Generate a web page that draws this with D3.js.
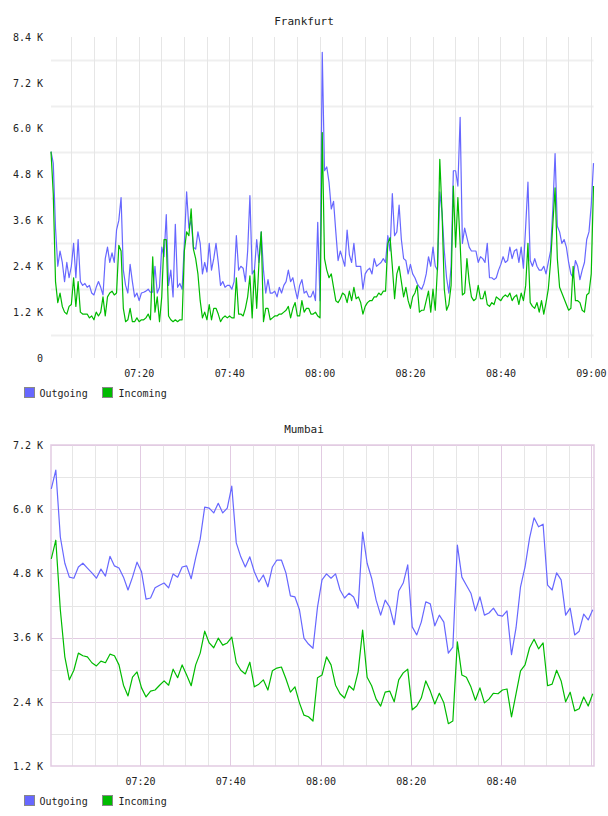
<!DOCTYPE html>
<html>
<head>
<meta charset="utf-8">
<script src="https://cdn.jsdelivr.net/npm/d3@7"></script>
<style>
body { margin: 0; background: #fff; }
text { font-family: "DejaVu Sans Mono", monospace; fill: #222; }
.title { font-size: 11px; }
.axis text, .legend text { font-size: 10px; }
</style>
</head>
<body>
<div id="charts"></div>
<script>
// values are in thousands (K)
var series_names = ['Outgoing', 'Incoming'];
var time_ticks = ['07:20', '07:40', '08:00', '08:20', '08:40', '09:00'];

var frankfurt_start = '07:00:35', frankfurt_step = 30; // seconds between samples
var frankfurt_y_ticks = [0, 1.2, 2.4, 3.6, 4.8, 6.0, 7.2, 8.4];
var frankfurt_outgoing = [
    5.4, 5.1, 3.4, 2.4, 2.8, 2.5, 2.0, 2.5, 2.1, 2.4,
    3.0, 2.1, 3.1, 2.0, 1.9, 1.95, 1.85, 1.9, 1.7, 1.65,
    1.85, 2.0, 1.85, 1.65, 2.6, 2.9, 2.5, 2.75, 2.5, 3.35,
    3.6, 4.2, 2.3, 1.9, 1.7, 2.45, 2.0, 1.6, 1.7, 1.5,
    1.7, 1.72, 1.75, 1.8, 1.72, 1.72, 2.4, 1.7, 1.85, 2.9,
    2.65, 3.75, 1.9, 2.3, 1.6, 3.5, 1.85, 1.95, 1.8, 3.0,
    4.35, 3.4, 3.6, 2.9, 2.85, 3.3, 3.0, 2.2, 2.5, 2.25,
    3.0, 2.3, 2.6, 3.0, 2.5, 1.9, 2.0, 1.85, 1.9, 1.9,
    1.8, 2.0, 3.2, 2.3, 2.4, 2.35, 2.0, 2.8, 4.25, 2.2,
    2.3, 3.1, 2.5, 3.3, 2.3, 1.7, 2.05, 1.7, 1.7, 1.75,
    1.6, 1.85, 1.7, 1.9, 2.0, 2.3, 2.0, 2.1, 1.8, 1.55,
    1.9, 2.05, 1.7, 1.75, 1.6, 1.6, 1.75, 1.5, 3.55, 1.5,
    8.0, 4.9, 5.0, 4.6, 3.9, 4.1, 3.3, 2.55, 2.8, 2.6,
    2.4, 3.35, 2.7, 2.5, 3.0, 2.4, 2.4, 2.4, 1.8, 2.2,
    2.3, 2.35, 2.2, 2.6, 2.4, 2.45, 2.5, 2.6, 2.5, 3.2,
    2.8, 4.3, 3.2, 3.3, 4.0, 3.1, 2.6, 2.55, 2.2, 2.45,
    2.2, 2.1, 1.95, 1.85, 1.8, 1.95, 2.2, 2.65, 2.4, 2.9,
    2.4, 2.3, 4.35, 3.8, 2.8, 2.1, 1.7, 2.4, 4.9, 4.9,
    4.5, 6.3, 3.0, 3.4, 3.15, 2.9, 2.8, 2.8, 2.8, 2.5,
    2.65, 2.6, 2.5, 3.0, 2.1, 2.1, 2.05, 2.1, 2.3, 2.45,
    2.65, 2.5, 2.55, 2.9, 2.6, 2.8, 2.85, 2.5, 2.9, 2.35,
    3.45, 4.6, 2.55, 2.4, 2.6, 2.4, 2.3, 2.3, 2.4, 2.2,
    2.5, 2.8, 3.9, 5.35, 3.45, 3.3, 3.0, 3.1, 2.9, 2.5,
    2.2, 2.1, 2.55, 2.4, 2.05, 2.3, 2.5, 3.1, 3.3, 4.0, 5.1
];
var frankfurt_incoming = [
    5.4, 4.3, 2.0, 1.45, 1.7, 1.35, 1.2, 1.15, 1.35, 1.4,
    2.1, 1.35, 2.0, 1.2, 1.15, 1.15, 1.15, 1.05, 1.1, 1.0,
    1.2, 1.1, 1.2, 1.6, 1.1, 1.6, 1.7, 1.75, 1.65, 1.7,
    2.95, 2.8, 1.3, 0.95, 1.0, 1.3, 0.95, 0.95, 1.05, 0.95,
    1.0, 1.0, 1.05, 1.15, 1.0, 2.65, 1.2, 1.6, 0.95, 1.6,
    3.1, 3.1, 1.1, 1.0, 0.95, 1.0, 0.95, 1.0, 1.0, 2.8,
    3.3, 3.2, 3.9, 2.85, 2.6, 2.2, 1.5, 1.05, 1.2, 1.0,
    1.4, 1.0, 1.3, 1.3, 1.15, 0.95, 1.05, 1.1, 1.05, 1.1,
    1.05, 1.05, 2.1, 1.15, 1.15, 1.1, 1.3, 1.6, 2.15, 1.05,
    2.3, 1.3, 2.5, 3.3, 0.95, 1.3, 1.3, 1.0, 1.05, 1.1,
    1.1, 1.15, 1.15, 1.2, 1.25, 1.35, 1.05, 1.3, 1.45, 1.1,
    1.1, 1.5, 1.2, 1.3, 1.3, 1.15, 1.15, 1.2, 1.1, 1.05,
    5.9, 2.6, 2.3, 2.1, 2.2, 1.85, 1.5, 1.45, 1.55, 1.7,
    1.65, 1.45, 1.75, 1.5, 1.85, 1.55, 1.6, 1.45, 1.15, 1.35,
    1.45, 1.5, 1.5, 1.6, 1.6, 1.7, 1.65, 1.75, 1.75, 3.0,
    3.15, 2.4, 1.55, 2.2, 2.4, 2.0, 1.6, 1.85, 1.5, 1.3,
    1.6, 1.7, 1.9, 1.2, 1.25, 1.25, 1.5, 1.75, 1.2, 1.8,
    1.25, 2.4, 5.2, 3.8, 1.8, 1.25, 1.4, 1.9, 4.5, 2.9,
    4.2, 3.0, 1.65, 1.7, 2.6, 2.0, 1.6, 1.5, 1.55, 1.9,
    1.55, 1.55, 1.75, 1.4, 1.35, 1.45, 1.4, 1.6, 1.55, 1.5,
    1.6, 1.65, 1.6, 1.7, 1.5, 1.6, 1.65, 1.4, 1.7, 1.5,
    1.9, 3.0, 1.45, 1.35, 1.3, 1.45, 1.2, 1.5, 1.15, 1.45,
    1.8, 2.5, 3.5, 4.45, 2.6, 1.85, 1.7, 1.55, 1.4, 1.25,
    1.3, 2.4, 1.5, 1.5, 1.45, 1.25, 1.2, 1.65, 1.7, 2.2, 4.5
];

var mumbai_start = '07:00:20', mumbai_step = 60;
var mumbai_y_ticks = [1.2, 2.4, 3.6, 4.8, 6.0, 7.2];
var mumbai_outgoing = [
    6.38, 6.73, 5.48, 4.99, 4.73, 4.71, 4.92, 4.99, 4.90, 4.81,
    4.71, 4.88, 4.75, 5.12, 4.94, 4.90, 4.73, 4.49, 4.73, 5.01,
    4.83, 4.32, 4.34, 4.53, 4.58, 4.62, 4.53, 4.79, 4.73, 4.92,
    4.94, 4.70, 5.09, 5.44, 6.04, 6.02, 5.93, 6.11, 5.93, 6.02,
    6.43, 5.37, 5.11, 4.92, 5.11, 4.83, 4.64, 4.77, 4.55, 4.92,
    5.05, 5.05, 4.81, 4.38, 4.36, 4.12, 3.59, 3.48, 3.40, 4.17,
    4.68, 4.79, 4.71, 4.79, 4.49, 4.34, 4.43, 4.36, 4.15, 5.57,
    4.99, 4.71, 4.30, 4.02, 4.30, 4.17, 3.84, 4.47, 4.62, 4.96,
    3.80, 3.65, 3.89, 4.27, 4.23, 3.82, 4.02, 3.89, 3.31, 3.42,
    5.33, 4.73, 4.58, 4.43, 4.10, 4.36, 4.02, 4.06, 4.15, 4.02,
    4.00, 4.10, 3.28, 3.78, 4.55, 4.92, 5.46, 5.84, 5.67, 5.72,
    4.58, 4.49, 4.81, 4.68, 4.02, 4.15, 3.65, 3.72, 4.04, 3.93,
    4.12
];
var mumbai_incoming = [
    5.07, 5.42, 4.12, 3.24, 2.81, 2.99, 3.31, 3.26, 3.24, 3.13,
    3.07, 3.16, 3.13, 3.29, 3.26, 3.09, 2.71, 2.51, 2.86, 2.96,
    2.66, 2.49, 2.60, 2.62, 2.71, 2.79, 2.71, 3.01, 2.85, 3.09,
    2.90, 2.70, 3.09, 3.31, 3.72, 3.50, 3.41, 3.59, 3.46, 3.50,
    3.61, 3.13, 2.99, 2.92, 3.14, 2.68, 2.73, 2.81, 2.62, 2.98,
    3.03, 3.05, 2.83, 2.58, 2.68, 2.38, 2.15, 2.12, 2.04, 2.85,
    2.90, 3.24, 3.09, 2.71, 2.55, 2.47, 2.70, 2.62, 2.96, 3.74,
    2.86, 2.70, 2.45, 2.32, 2.58, 2.60, 2.40, 2.81, 2.94, 3.01,
    2.25, 2.32, 2.47, 2.79, 2.60, 2.36, 2.56, 2.38, 1.99, 2.04,
    3.52, 2.90, 2.86, 2.68, 2.43, 2.66, 2.38, 2.45, 2.56, 2.55,
    2.62, 2.64, 2.12, 2.55, 2.98, 3.09, 3.41, 3.57, 3.39, 3.50,
    2.70, 2.73, 2.99, 2.79, 2.40, 2.58, 2.23, 2.27, 2.49, 2.32,
    2.55
];

var colors = ['#6767ff', '#00bb00'];
var parseTime = d3.timeParse('%H:%M:%S');

function series(start, step, values) {
    var t0 = parseTime(start);
    return values.map((v, i) => ({ time: new Date(t0.getTime() + i * step * 1000), value: v }));
}

var svg = d3.select('#charts').append('svg')
    .attr('width', 608)
    .attr('height', 816);

function plot(c) {
    var margin = { left: 51, top: c.top },
        width = c.width,
        height = 321;

    var g = svg.append('g')
        .attr('transform', `translate(${margin.left},${margin.top})`);

    var x = d3.scaleTime()
        .domain(c.x_domain.map(parseTime))
        .range([0, width]);
    var y = d3.scaleLinear()
        .domain(d3.extent(c.y_ticks))
        .range([height, 0]);

    svg.append('text')
        .attr('class', 'title')
        .attr('x', 304)
        .attr('y', margin.top - 12)
        .attr('text-anchor', 'middle')
        .text(c.title);

    // grid
    var step = c.y_ticks[1] - c.y_ticks[0];
    var hlines = d3.range(c.y_ticks[0] + step / 2, d3.max(c.y_ticks), step / 2);
    if (!c.major) hlines = hlines.filter((d, i) => i % 2 == 0);
    var vlines = d3.timeMinute.every(5).range(x.domain()[0], x.domain()[1]);

    g.selectAll('.hgrid')
        .data(hlines)
        .enter()
        .append('line')
            .attr('x1', 0).attr('x2', width)
            .attr('y1', d => Math.round(y(d)) + 0.5).attr('y2', d => Math.round(y(d)) + 0.5)
            .attr('stroke', (d, i) => c.major && i % 2 == 1 ? c.major : c.minor)
            .attr('stroke-width', c.major ? 1 : 2);

    g.selectAll('.vgrid')
        .data(vlines)
        .enter()
        .append('line')
            .attr('x1', d => Math.round(x(d)) + 0.5).attr('x2', d => Math.round(x(d)) + 0.5)
            .attr('y1', 0).attr('y2', height)
            .attr('stroke', d => c.major && d.getMinutes() % 20 == 0 ? c.major : c.vminor);

    if (c.major) {
        g.append('rect')
            .attr('x', 0).attr('y', 0)
            .attr('width', width).attr('height', height)
            .attr('fill', 'none')
            .attr('stroke', c.major)
            .attr('stroke-width', 1.5);
    }

    g.append('g')
        .attr('class', 'axis')
        .attr('transform', `translate(0,${height})`)
        .call(d3.axisBottom(x)
            .tickValues(c.x_ticks.map(d => parseTime(d + ':00')))
            .tickFormat(d3.timeFormat('%H:%M'))
            .tickSize(0)
            .tickPadding(12))
        .call(a => a.select('.domain').remove());

    g.append('g')
        .attr('class', 'axis')
        .call(d3.axisLeft(y)
            .tickValues(c.y_ticks)
            .tickFormat(d => d == 0 ? '0' : d.toFixed(1) + ' K')
            .tickSize(0)
            .tickPadding(8))
        .call(a => a.select('.domain').remove());

    var line = d3.line()
        .x(d => x(d.time))
        .y(d => y(d.value));

    c.data.forEach((s, i) => {
        g.append('path')
            .datum(s)
            .attr('fill', 'none')
            .attr('stroke', colors[i])
            .attr('stroke-width', 1.2)
            .attr('stroke-linejoin', 'round')
            .attr('d', line);
    });

    var legend = svg.append('g')
        .attr('class', 'legend')
        .attr('transform', `translate(0,${margin.top + height + 29})`);
    var items = legend.selectAll('g')
        .data(series_names)
        .enter()
        .append('g')
            .attr('transform', (d, i) => `translate(${i == 0 ? 24.5 : 102.5},0.5)`);
    items.append('rect')
        .attr('width', 10).attr('height', 10)
        .attr('fill', (d, i) => colors[i])
        .attr('stroke', '#888');
    items.append('text')
        .attr('x', (d, i) => i == 0 ? 15 : 16)
        .attr('y', 9)
        .text(d => d);
}

plot({
    title: 'Frankfurt',
    top: 37,
    width: 542.5,
    x_domain: ['07:00:35', '09:00:35'],
    x_ticks: time_ticks,
    y_ticks: frankfurt_y_ticks,
    minor: '#efefef',
    vminor: '#e6e6e6',
    data: [series(frankfurt_start, frankfurt_step, frankfurt_outgoing),
           series(frankfurt_start, frankfurt_step, frankfurt_incoming)]
});

plot({
    title: 'Mumbai',
    top: 445,
    width: 543,
    x_domain: ['07:00:16', '09:00:37'],
    x_ticks: time_ticks.slice(0, 5),
    y_ticks: mumbai_y_ticks,
    minor: '#e6e6e6',
    vminor: '#e6e6e6',
    major: '#e2cbe2',
    data: [series(mumbai_start, mumbai_step, mumbai_outgoing),
           series(mumbai_start, mumbai_step, mumbai_incoming)]
});
</script>
</body>
</html>
